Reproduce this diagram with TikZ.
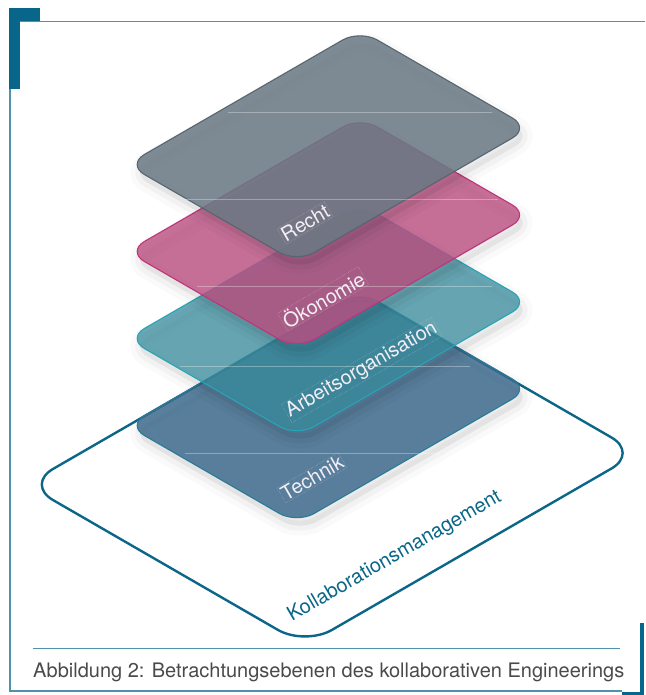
\documentclass[tikz,border=0pt]{standalone}
\usepackage{fontspec}
\setmainfont{TeX Gyre Heros}
\definecolor{framedark}{HTML}{07668A}
\definecolor{framethin}{HTML}{4E93AB}
\definecolor{outerline}{HTML}{0B6688}
\definecolor{rechtC}{HTML}{6A7A84}
\definecolor{rechtL}{HTML}{56656E}
\definecolor{oekC}{HTML}{BA4E80}
\definecolor{oekL}{HTML}{C0347A}
\definecolor{arbC}{HTML}{378B9C}
\definecolor{arbL}{HTML}{27A5B5}
\definecolor{techC}{HTML}{3E6B8E}
\definecolor{techL}{HTML}{2A7B98}
\definecolor{captxt}{HTML}{4A4A4A}
\definecolor{lbltxt}{HTML}{F2EEF4}
\tikzset{
  isoplane/.style={x={(0.866pt,-0.5pt)}, y={(-0.866pt,-0.5pt)}},
  thinframe/.style={draw=framethin, line width=1.4pt},
  layerlabel/.style={text=lbltxt, font=\fontsize{20}{24}\selectfont, inner sep=1.2pt,
     draw=white, draw opacity=0.45, densely dotted, line width=0.4pt, rotate=30, anchor=base west},
  outerlabel/.style={text=outerline, font=\fontsize{20}{24}\selectfont, inner sep=0pt, rotate=30, anchor=base west},
  caption/.style={text=captxt, font=\fontsize{20}{24}\selectfont, inner sep=0pt, anchor=base west},
  seam/.style={draw=white, draw opacity=0.32, line width=0.8pt},
}
% rounded rectangle in local iso coordinates: A (along x), B (along y), r, options
\newcommand{\isoRR}[4]{%
  \pgfmathsetmacro\isoA{#1}\pgfmathsetmacro\isoB{#2}\pgfmathsetmacro\isoR{#3}%
  \pgfmathsetmacro\isoC{#3*0.4477}%
  \path[#4] (\isoR,0) -- ({\isoA-\isoR},0) .. controls ({\isoA-\isoC},0) and (\isoA,\isoC) .. (\isoA,\isoR)
    -- (\isoA,{\isoB-\isoR}) .. controls (\isoA,{\isoB-\isoC}) and ({\isoA-\isoC},\isoB) .. ({\isoA-\isoR},\isoB)
    -- (\isoR,\isoB) .. controls (\isoC,\isoB) and (0,{\isoB-\isoC}) .. (0,{\isoB-\isoR})
    -- (0,\isoR) .. controls (0,\isoC) and (\isoC,0) .. (\isoR,0) -- cycle;}
% layer: #1 Oy, #2 fill, #3 opacity, #4 line colour
\newcommand{\isoLayer}[4]{%
  \begin{scope}[shift={(363,#1+8)}, isoplane]
    \isoRR{196}{269}{20}{draw=black, draw opacity=0.02, line width=20pt, line join=round}
    \isoRR{196}{269}{20}{fill=black, fill opacity=0.06, draw=black, draw opacity=0.03, line width=10pt, line join=round}
  \end{scope}
  \begin{scope}[shift={(360,#1)}, isoplane]
    \isoRR{196}{269}{20}{fill=#2, fill opacity=#3, draw=#4, line width=1.1pt}
  \end{scope}}
\begin{document}
\begin{tikzpicture}[x=1pt,y=-1pt]
\useasboundingbox (0,0) rectangle (645,695);
% frame
\fill[framedark] (9,8) rectangle (40,21);
\fill[framedark] (9,8) rectangle (20,89);
\draw[thinframe] (20,21.5) -- (645,21.5);
\draw[thinframe] (10,89) -- (10,690.8) -- (622,690.8);
\fill[framedark] (640,623) rectangle (644,695);
\fill[framedark] (622,691.5) rectangle (644,695);
\draw[framethin, line width=1.2pt] (33,648.3) -- (620,648.3);
\node[caption] (cap) at (33,677) {Abbildung 2: Betrachtungsebenen des kollaborativen Engineerings};
% outer plane
\begin{scope}[shift={(359.5,292)}, isoplane]
  \isoRR{322}{385}{31}{fill=white, draw=outerline, line width=2.4pt}
\end{scope}
\node[outerlabel] (kollab) at (292,621.7) {Kollaborationsmanagement};
% layers, bottom to top
\isoLayer{291}{techC}{0.85}{techL}
\node[layerlabel] (technik) at (285,501.7) {Technik};
\isoLayer{204}{arbC}{0.75}{arbL}
\node[layerlabel] (arbeit) at (289,418) {Arbeitsorganisation};
\isoLayer{117}{oekC}{0.80}{oekL}
\node[layerlabel] (oeko) at (287,330) {Ökonomie};
\isoLayer{30}{rechtC}{0.86}{rechtL}
\node[layerlabel] (recht) at (285,242.7) {Recht};
% faint seams
\draw[seam] (228,112) -- (492,112);
\draw[seam] (185,199) -- (498,199);
\draw[seam] (197,286) -- (492,286);
\draw[seam] (180,366) -- (470,366);
\draw[seam] (185,453) -- (440,453);
\end{tikzpicture}
\end{document}
